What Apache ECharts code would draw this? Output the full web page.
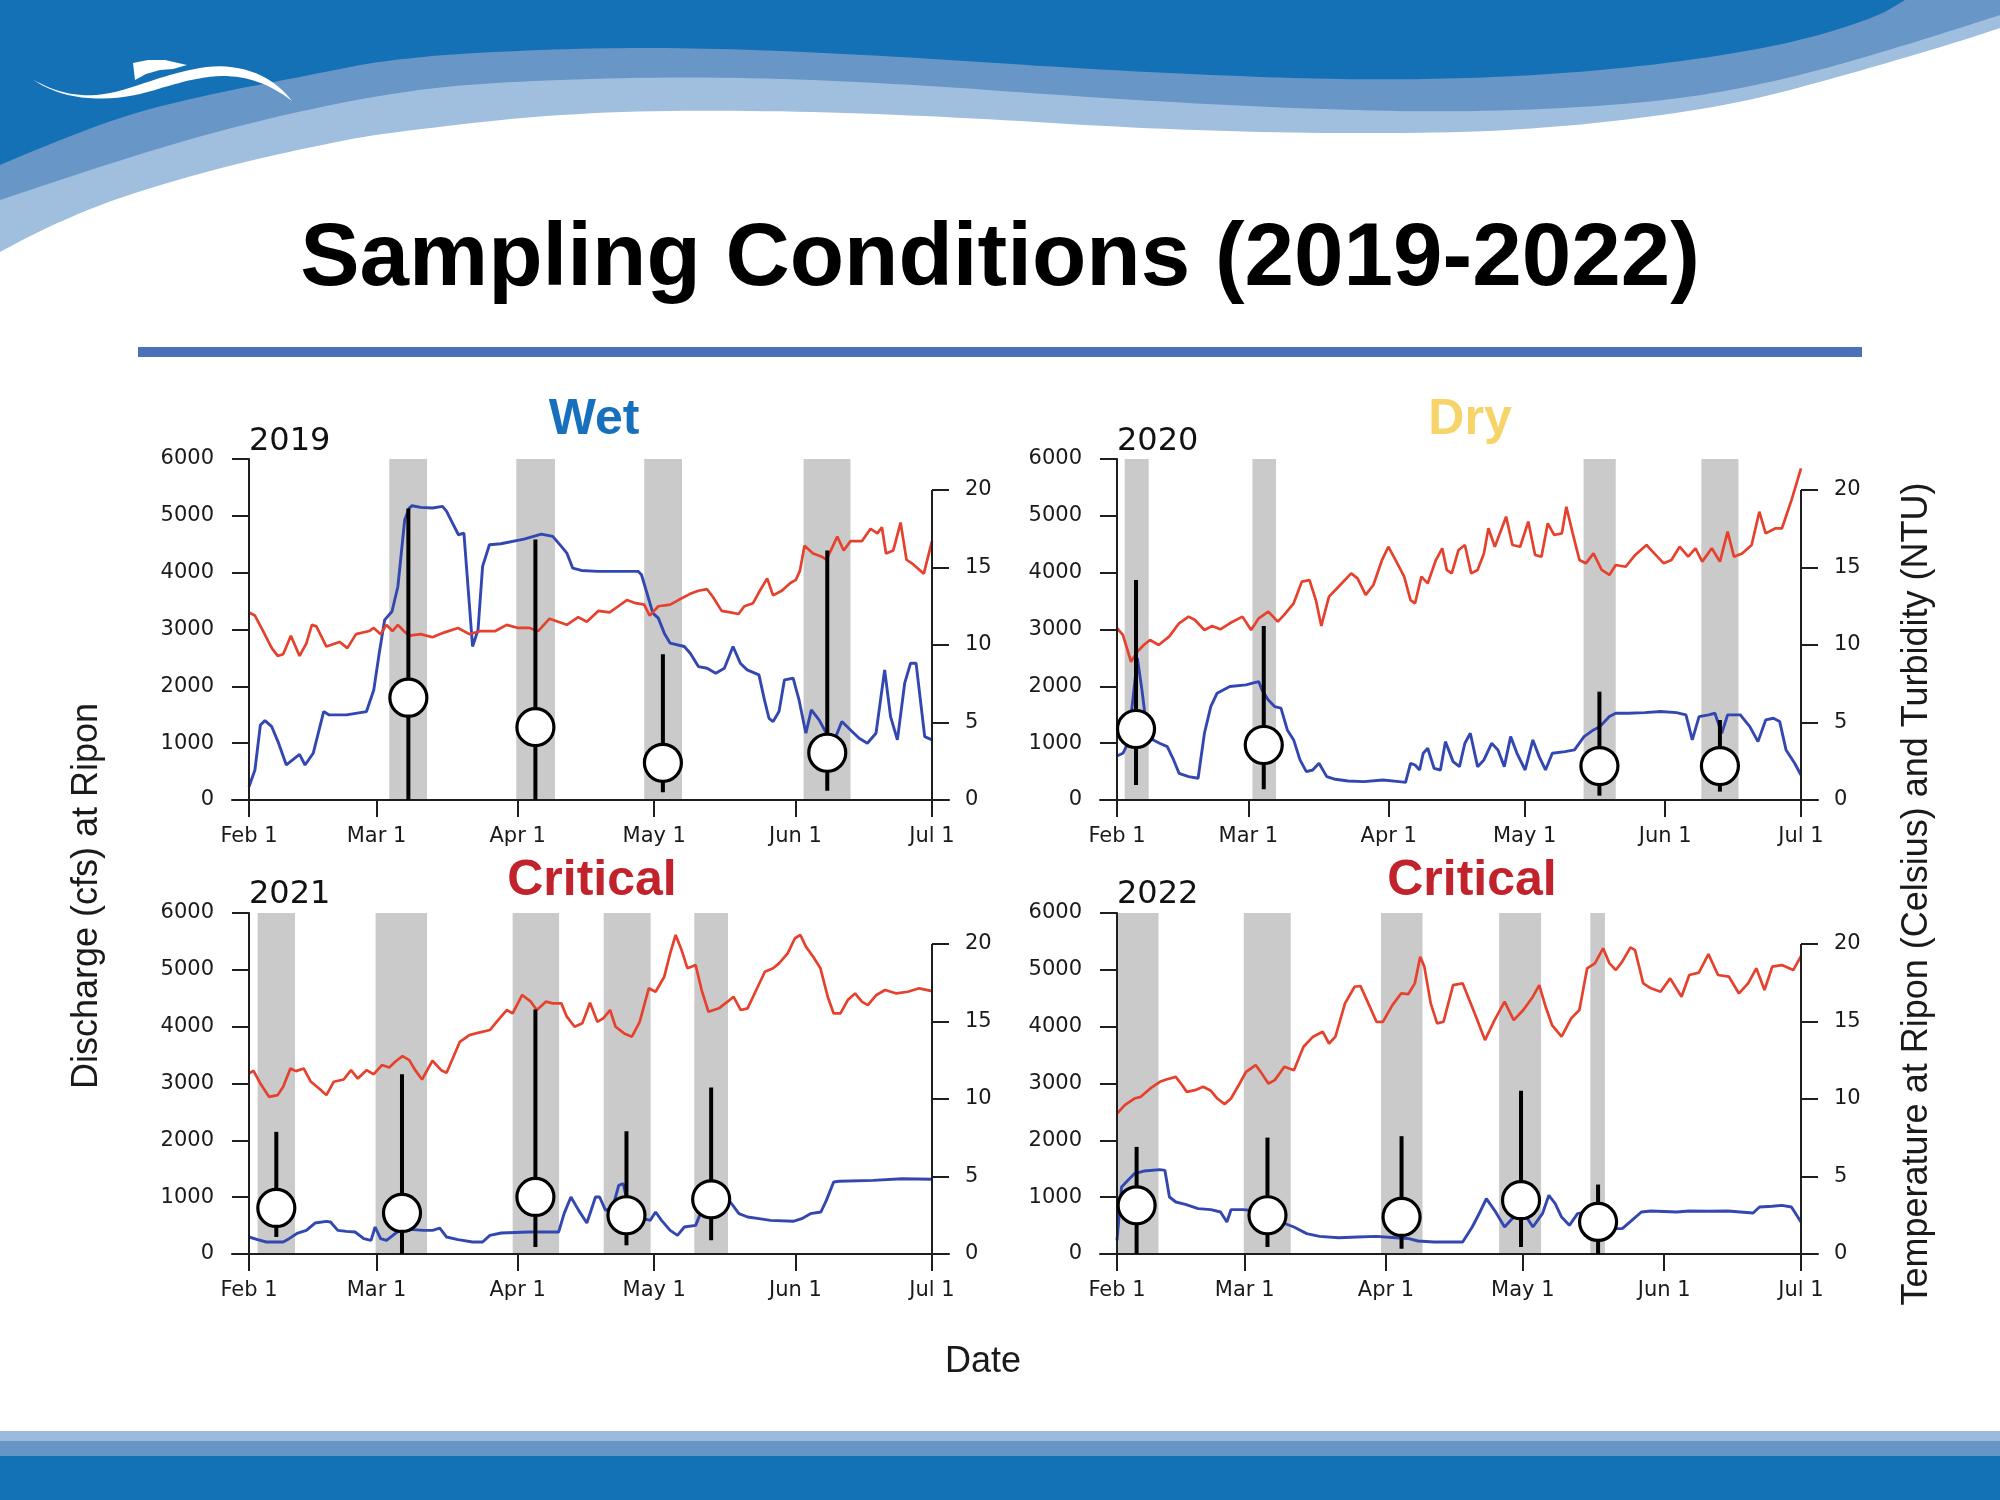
<!DOCTYPE html>
<html><head><meta charset="utf-8">
<script src="https://cdn.jsdelivr.net/npm/echarts@6/dist/echarts.min.js"></script>
<style>html,body{margin:0;padding:0;background:#fff}#c{width:2000px;height:1500px}</style>
</head><body><div id="c"></div><script>
// ---------------- DATA ----------------
const tickLabels = ['Feb 1','Mar 1','Apr 1','May 1','Jun 1','Jul 1'];
const ticks2019 = [0,28,59,89,120,150];
const ticks2020 = [0,29,60,90,121,151];
const ticks2021 = [0,28,59,89,120,150];
const ticks2022 = [0,28,59,89,120,150];
const dischargeTicks = [0,1000,2000,3000,4000,5000,6000];
const tempTicks = [0,5,10,15,20];
const years = ['2019','2020','2021','2022'];
const yearTypes = ['Wet','Dry','Critical','Critical'];

// discharge (cfs) [day since Feb 1, value]
const dis2019 = [[0,235],[1.3,528],[2.5,1320],[3.5,1397],[5,1290],[6.5,1000],[8.2,616],[11.1,804],[12.3,616],[14.1,822],[16.4,1556],[17.6,1497],[21.4,1497],[25.8,1556],[27.4,1937],[28.6,2583],[29.8,3170],[31.4,3317],[32.7,3757],[34.2,4932],[35.2,5137],[35.8,5178],[37.7,5149],[40.3,5137],[42.5,5166],[43.4,5078],[44.7,4873],[46,4667],[47.2,4697],[49.1,2701],[50.3,2994],[51.3,4110],[52.8,4491],[55.3,4509],[60.4,4591],[64.2,4679],[66.7,4638],[68.6,4462],[69.8,4345],[71.1,4080],[73,4039],[76.7,4022],[85.5,4022],[86.2,3963],[88.7,3288],[89.9,3200],[91.2,2936],[92.5,2760],[95.6,2701],[96.9,2583],[98.7,2348],[100.6,2319],[102.5,2231],[104.4,2319],[106.3,2701],[107.9,2407],[109.4,2290],[112,2202],[113.2,1761],[114.2,1438],[115.1,1380],[116.4,1556],[117.6,2114],[119.5,2143],[120.8,1761],[122.3,1174],[123.5,1585],[125.2,1409],[126.8,1174],[128.3,998],[130.2,1380],[132.1,1233],[134,1086],[135.8,998],[137.7,1174],[139.6,2290],[140.9,1468],[142.4,1057],[144,2055],[145.3,2407],[146.5,2407],[148.4,1115],[150,1057]];
const dis2020 = [[0,775],[1.3,822],[2.4,998],[3.5,1761],[4.5,2495],[5.5,1937],[6.6,1233],[8,1057],[9.4,998],[11.1,939],[12.5,705],[13.7,470],[15.8,411],[17.9,382],[19.3,1174],[20.7,1644],[22.1,1879],[24.9,1996],[28.5,2025],[29.9,2055],[31.3,2084],[32,1937],[33.4,1761],[34.8,1644],[36.2,1615],[37.6,1233],[39,1057],[40.4,705],[41.8,499],[43.2,528],[44.6,646],[46.3,411],[48.2,364],[51,335],[54.5,323],[58.7,352],[62.3,323],[63.7,311],[64.8,646],[65.8,616],[66.8,528],[67.6,822],[68.6,910],[70,558],[71.4,528],[72.5,1027],[74.2,675],[75.6,587],[76.8,998],[78,1174],[79.6,587],[81,705],[82.7,998],[84.1,881],[85.5,587],[86.9,1115],[88.3,822],[90.1,528],[91.8,1057],[93.2,763],[94.6,528],[96.1,822],[98.9,851],[101,881],[103.1,1115],[105.2,1233],[106.6,1292],[108.7,1468],[110.1,1526],[112.9,1526],[116.5,1538],[120,1556],[123.5,1538],[125.6,1497],[127,1057],[128.5,1468],[130.6,1497],[132,1526],[133.5,1174],[134.8,1497],[137.6,1497],[139.7,1292],[141.5,1027],[143.2,1409],[144.9,1438],[146.3,1380],[147.7,881],[149.6,646],[151,440]];
const dis2021 = [[0,299],[1.9,252],[3.8,211],[7.5,211],[8.8,270],[10.7,369],[12.6,416],[14.5,545],[17,575],[17.9,563],[19.5,416],[21.4,399],[23.3,387],[25.2,270],[26.8,240],[27.7,475],[28.9,270],[30.2,240],[32.1,358],[34,475],[35.9,428],[38.4,416],[40.3,416],[41.9,457],[43.4,299],[45.9,252],[49.1,211],[51.3,211],[52.9,328],[55.4,369],[61.4,387],[65.2,387],[68,387],[69.2,710],[70.7,1003],[72.4,768],[74.2,545],[76.1,1003],[77,1003],[78.3,768],[79.9,827],[81.2,1208],[82.2,1237],[83,944],[84.9,886],[86.6,622],[88.1,592],[89.3,739],[90.6,592],[92.5,416],[94.1,328],[95.6,475],[98.1,504],[100,886],[101.3,827],[103.2,768],[105.7,915],[107.6,710],[109.5,651],[112,622],[114.5,592],[119.5,575],[121.4,622],[123.3,710],[125.6,739],[126.8,944],[128.4,1267],[129.6,1279],[137.1,1296],[143.4,1325],[150,1314]];
const dis2022 = [[0,240],[1,1179],[2.4,1296],[3.8,1413],[5.9,1460],[9.4,1484],[10.5,1472],[11.5,1003],[12.9,915],[15,874],[17.8,798],[20.6,780],[22.7,739],[24.1,563],[25,780],[27.6,780],[29.7,768],[31.8,651],[35.9,563],[38.8,475],[41.6,358],[44.4,311],[48.6,287],[52.7,299],[56.9,311],[61.1,287],[64,270],[66,229],[69.5,211],[72.3,211],[75.8,211],[77.9,475],[79.6,739],[81,974],[82.8,768],[85,475],[87,651],[89.1,739],[91.2,475],[93.3,710],[94.7,1032],[96.1,886],[97.5,651],[99.2,504],[101,710],[102.8,739],[104.5,651],[106.6,504],[108.7,446],[110.8,446],[112.9,592],[115,739],[117.1,757],[122.7,739],[125.5,757],[129.7,751],[133.9,757],[136.7,739],[139.5,721],[140.9,827],[143.7,839],[145.8,856],[147.9,827],[150,563]];

// temperature (Celsius) [day since Feb 1, value]
const temp2019 = [[0,12.1],[1.3,11.9],[3.1,10.9],[5,9.8],[6.3,9.3],[7.5,9.4],[9.2,10.6],[11.1,9.3],[12.6,10.1],[13.8,11.3],[14.8,11.2],[17,9.9],[19.9,10.2],[21.6,9.8],[23.5,10.7],[26.4,10.9],[27.4,11.1],[28.9,10.7],[30.2,11.3],[31.5,10.9],[32.7,11.3],[34,10.9],[35.2,10.6],[37.7,10.7],[40.3,10.5],[42.8,10.8],[45.9,11.1],[48.4,10.7],[50.9,10.9],[54.1,10.9],[56.6,11.3],[59.1,11.1],[61.6,11.1],[63.5,10.9],[66,11.7],[67.9,11.5],[69.8,11.3],[72.3,11.8],[74.2,11.5],[76.7,12.2],[79.2,12.1],[81.1,12.5],[83,12.9],[84.9,12.7],[86.8,12.6],[88,11.9],[89.9,12.5],[92.5,12.6],[94.3,12.9],[96.9,13.3],[98.7,13.5],[100.6,13.6],[101.9,13.1],[103.8,12.2],[105.7,12.1],[107.5,12.0],[108.8,12.5],[110.7,12.7],[112,13.4],[113.8,14.3],[115.1,13.2],[117,13.5],[118.9,14.0],[120.1,14.2],[121,14.8],[122,16.4],[123.9,15.9],[125.8,15.7],[126.8,15.5],[128.1,16.3],[129.2,17.0],[130.6,16.1],[132.1,16.7],[134.6,16.7],[136.5,17.5],[138,17.2],[139,17.6],[139.9,15.9],[141.5,16.1],[143.1,17.9],[144.4,15.5],[145.9,15.2],[148.2,14.6],[150,16.7]];
const temp2020 = [[0,11.08],[1.3,10.65],[3.1,8.92],[4.5,9.57],[5.9,10.0],[7.3,10.32],[9.2,10.0],[11.5,10.54],[13.7,11.4],[15.8,11.83],[17.2,11.61],[19.3,10.97],[21,11.23],[22.8,11.01],[24.9,11.4],[27.7,11.83],[29.6,10.97],[31.3,11.72],[33.4,12.15],[35.5,11.51],[36.9,11.94],[39,12.69],[40.8,14.09],[42.5,14.19],[43.9,12.9],[45.1,11.23],[46.8,13.12],[48.9,13.76],[51.7,14.62],[53.1,14.3],[54.9,13.23],[56.6,13.87],[58.5,15.48],[59.9,16.34],[61.5,15.48],[63.4,14.41],[64.8,12.9],[65.8,12.69],[67.2,14.41],[68.6,13.98],[70.4,15.48],[71.8,16.24],[72.8,14.84],[73.9,14.62],[75.4,16.13],[76.8,16.45],[78.2,14.62],[79.6,14.84],[81,15.91],[82,17.53],[83.4,16.34],[84.8,17.42],[85.9,18.28],[87.3,16.45],[89,16.34],[90.8,17.96],[92.3,15.81],[93.7,15.7],[95.1,17.85],[96.5,17.1],[98.2,17.2],[99.2,18.92],[100.6,17.2],[102.1,15.48],[103.5,15.27],[105.2,15.91],[107,14.84],[108.7,14.52],[110.1,15.16],[112.3,15.05],[114.4,15.81],[116.9,16.45],[118.6,15.91],[120.7,15.27],[122.4,15.48],[124.2,16.34],[126.1,15.7],[127.7,16.24],[129.2,15.38],[131.3,16.24],[133.1,15.38],[134.8,17.31],[136.2,15.7],[138,15.91],[140.1,16.45],[141.8,18.6],[143.2,17.2],[145.4,17.53],[146.8,17.53],[148.9,19.35],[151,21.4]];
const temp2021 = [[0,11.65],[1,11.82],[2.5,11.0],[4.4,10.14],[6.3,10.25],[7.5,10.79],[9.1,11.97],[10.3,11.8],[12,11.97],[13.6,11.11],[15.4,10.68],[17,10.25],[18.6,11.11],[20.8,11.26],[22.4,11.86],[23.9,11.32],[25.8,11.86],[27.4,11.6],[29.2,12.19],[30.8,12.03],[32.1,12.4],[33.7,12.77],[35.2,12.51],[36.5,11.86],[38,11.26],[40.3,12.47],[42.2,11.86],[43.4,11.69],[46.3,13.69],[48.4,14.12],[50.3,14.27],[52.9,14.45],[54.7,15.09],[56.6,15.74],[57.9,15.52],[60,16.71],[61.9,16.28],[63.2,15.74],[65.2,16.28],[66.7,16.17],[68.6,16.17],[69.8,15.31],[71.5,14.66],[73.2,14.88],[74.9,16.21],[76.5,14.98],[77.8,15.2],[79.3,15.74],[80.5,14.66],[82.4,14.23],[84.1,14.02],[85.8,14.98],[87.8,17.14],[89.3,16.92],[91.2,17.89],[92.5,19.4],[93.7,20.58],[95,19.61],[96.3,18.43],[98.1,18.64],[99.4,17.03],[100.9,15.63],[103.2,15.85],[105.1,16.28],[106.4,16.6],[108,15.74],[109.5,15.85],[111.4,17.03],[113.3,18.21],[115.1,18.43],[116.4,18.75],[118.3,19.4],[119.9,20.37],[121.1,20.58],[122.3,19.83],[123.9,19.18],[125.5,18.43],[127.1,16.6],[128.4,15.52],[129.9,15.52],[131.5,16.38],[133.1,16.81],[134.6,16.28],[135.9,16.06],[137.8,16.71],[139.7,17.03],[142.2,16.81],[144.7,16.92],[147.2,17.14],[150,16.96]];
const temp2022 = [[0,9.06],[1.7,9.6],[3.8,10.03],[5.2,10.14],[7.3,10.68],[9.4,11.11],[10.8,11.26],[12.9,11.43],[14.3,10.89],[15.3,10.46],[17.1,10.57],[18.9,10.79],[20.6,10.53],[22,10.03],[23.6,9.67],[25,10.03],[26.9,11.0],[28.3,11.75],[30.4,12.19],[31.5,11.75],[33.2,11.0],[34.6,11.22],[36.7,12.08],[38.8,11.86],[40.9,13.37],[43,14.02],[45.1,14.34],[46.5,13.58],[47.9,14.02],[50,16.17],[52.1,17.24],[53.4,17.29],[54.8,16.38],[56.9,14.98],[58.3,14.98],[60.4,16.06],[62.3,16.81],[63.9,16.77],[65.3,17.46],[66.5,19.18],[67.4,18.54],[68.8,16.17],[70.2,14.88],[71.6,14.98],[73.7,17.35],[75.8,17.46],[78.6,15.41],[80.7,13.8],[82.8,15.09],[85,16.28],[87,15.09],[89.1,15.74],[91.2,16.6],[92.6,17.35],[94,15.95],[95.4,14.77],[97.5,14.02],[99.6,15.2],[101.4,15.74],[103.1,18.43],[104.8,18.75],[106.6,19.72],[108,18.75],[109.4,18.32],[110.8,18.86],[112.6,19.78],[113.6,19.61],[115.4,17.46],[117.1,17.14],[119.2,16.92],[121.3,17.78],[123.8,16.6],[125.5,18.0],[127.6,18.15],[129.7,19.35],[131.8,18.0],[134.2,17.89],[136.4,16.81],[138.4,17.46],[140.2,18.43],[142,17.03],[143.7,18.54],[145.8,18.64],[148.3,18.32],[150,19.22]];

// sampling periods (grey bands) [start day, end day]
const bands2019 = [[30.8,39.1],[58.7,67.2],[86.8,95.1],[121.8,132.1]];
const bands2020 = [[1.7,7.0],[29.9,35.1],[103.0,110.1],[129.0,137.2]];
const bands2021 = [[1.9,10.1],[27.8,39.1],[57.9,68.1],[77.9,88.2],[97.8,105.2]];
const bands2022 = [[0,9.1],[27.8,38.1],[57.9,67.0],[83.8,93.0],[103.8,107.0]];

// turbidity (NTU) [day, median, min, max]
const turb2019 = [[35,6.6,0,18.8],[62.9,4.7,0,16.8],[90.9,2.4,0.5,9.4],[127,3.05,0.6,16.1]];
const turb2020 = [[4.2,4.58,0.97,14.19],[32.4,3.55,0.69,11.23],[106.5,2.19,0.28,6.99],[133.1,2.19,0.54,5.16]];
const turb2021 = [[6,2.97,1.1,7.88],[33.6,2.65,0,11.6],[62.9,3.68,0.45,15.78],[82.9,2.5,0.56,7.92],[101.5,3.53,0.88,10.74]];
const turb2022 = [[4.3,3.14,0,6.91],[33,2.5,0.45,7.51],[62.4,2.39,0.34,7.6],[88.6,3.47,0.45,10.53],[105.5,2.07,0,4.48]];

// ---------------- STYLE / LAYOUT ----------------
const disList = [dis2019, dis2020, dis2021, dis2022];
const tempList = [temp2019, temp2020, temp2021, temp2022];
const bandList = [bands2019, bands2020, bands2021, bands2022];
const turbList = [turb2019, turb2020, turb2021, turb2022];
const tickList = [ticks2019, ticks2020, ticks2021, ticks2022];
const typeColors = ['#1670bd', '#f6d469', '#c1222b', '#c1222b'];
const boxes = [
  {left:249, top:459, len:683, titleX:594, titleY:420, yearY:442},
  {left:1117, top:459, len:684, titleX:1470, titleY:420, yearY:442},
  {left:249, top:913, len:683, titleX:592, titleY:881, yearY:895},
  {left:1117, top:913, len:684, titleX:1472, titleY:881, yearY:895}
];
const PLOT_H = 341, EXT = 17;
const AX = '#1e1e1e';
const tickFont = {fontFamily:'DejaVu Sans', fontSize:21, color:'#1a1a1a'};

const grids = [], xAxes = [], yAxes = [], series = [];
boxes.forEach((b, i) => {
  const ticks = tickList[i];
  const last = ticks[ticks.length - 1];
  const extDays = EXT * last / b.len;
  grids.push({left:b.left - EXT, top:b.top, width:b.len + 2*EXT, height:PLOT_H,
              containLabel:false, outerBoundsMode:'none'});
  xAxes.push({type:'value', gridIndex:i, min:-extDays, max:last + extDays, z:4,
    splitLine:{show:false},
    axisLine:{show:true, onZero:false, lineStyle:{color:AX, width:2}},
    axisTick:{show:true, customValues:ticks, length:17, lineStyle:{color:AX, width:2}},
    axisLabel:Object.assign({customValues:ticks, margin:26,
      formatter:v => { const k = ticks.findIndex(t => Math.abs(t - v) < 0.01); return k >= 0 ? tickLabels[k] : ''; }}, tickFont)
  });
  yAxes.push({type:'value', gridIndex:i, position:'left', min:0, max:6000, offset:-EXT, z:4,
    splitLine:{show:false},
    axisLine:{show:true, onZero:false, lineStyle:{color:AX, width:2}},
    axisTick:{show:true, customValues:dischargeTicks, length:17, lineStyle:{color:AX, width:2}},
    axisLabel:Object.assign({customValues:dischargeTicks, margin:35, formatter:v => String(Math.round(v))}, tickFont)
  });
  yAxes.push({type:'value', gridIndex:i, position:'right', min:0, max:22, offset:-EXT, z:4,
    splitLine:{show:false},
    axisLine:{show:false, onZero:false},
    axisTick:{show:true, customValues:tempTicks, length:17, lineStyle:{color:AX, width:2}},
    axisLabel:Object.assign({customValues:tempTicks, margin:33, formatter:v => String(Math.round(v))}, tickFont)
  });
  series.push({type:'line', xAxisIndex:i, yAxisIndex:2*i, data:[], z:1, silent:true,
    markArea:{silent:true, itemStyle:{color:'#cacaca'},
      data:bandList[i].map(d => [{xAxis:d[0]}, {xAxis:d[1]}])}});
  series.push({type:'line', xAxisIndex:i, yAxisIndex:2*i, data:disList[i], z:3,
    showSymbol:false, symbol:'none', silent:true,
    lineStyle:{color:'#3347b0', width:2.9}});
  series.push({type:'line', xAxisIndex:i, yAxisIndex:2*i+1, data:tempList[i], z:3,
    showSymbol:false, symbol:'none', silent:true,
    lineStyle:{color:'#e6412d', width:2.7},
    markLine:{silent:true, symbol:['none','none'], label:{show:false},
      lineStyle:{color:AX, width:2, type:'solid'},
      data:[[{coord:[last, tempTicks[0]]}, {coord:[last, tempTicks[tempTicks.length-1]]}]]}});
  series.push({type:'custom', xAxisIndex:i, yAxisIndex:2*i+1, z:5, silent:true,
    data:turbList[i].map(t => [t[0], t[2], t[3]]),
    encode:{x:0, y:[1,2]},
    renderItem:(params, api) => {
      const a = api.coord([api.value(0), api.value(1)]);
      const c = api.coord([api.value(0), api.value(2)]);
      return {type:'line', shape:{x1:a[0], y1:a[1], x2:c[0], y2:c[1]},
              style:{stroke:'#000', lineWidth:4}};
    }});
  series.push({type:'scatter', xAxisIndex:i, yAxisIndex:2*i+1, z:6, silent:true,
    data:turbList[i].map(t => [t[0], t[1]]),
    symbol:'circle', symbolSize:37,
    itemStyle:{color:'#ffffff', borderColor:'#000', borderWidth:3.2, opacity:1}});
});

// ---------------- DECORATION ----------------
function smoothPts(pts) {
  const out = [pts[0].slice()];
  let start = pts[0];
  for (let i = 1; i < pts.length - 1; i++) {
    const c = pts[i];
    const end = [(pts[i][0] + pts[i+1][0]) / 2, (pts[i][1] + pts[i+1][1]) / 2];
    for (let k = 1; k <= 12; k++) {
      const t = k / 12, u = 1 - t;
      out.push([u*u*start[0] + 2*u*t*c[0] + t*t*end[0], u*u*start[1] + 2*u*t*c[1] + t*t*end[1]]);
    }
    start = end;
  }
  out.push(pts[pts.length - 1].slice());
  return out;
}
function cubicPts(p0, segs) {
  const out = [p0];
  let s = p0;
  segs.forEach(g => {
    for (let k = 1; k <= 16; k++) {
      const t = k / 16, u = 1 - t;
      out.push([u*u*u*s[0] + 3*u*u*t*g[0][0] + 3*u*t*t*g[1][0] + t*t*t*g[2][0],
                u*u*u*s[1] + 3*u*u*t*g[0][1] + 3*u*t*t*g[1][1] + t*t*t*g[2][1]]);
    }
    s = g[2];
  });
  return out;
}
const waveLight = [[0,252],[67,215],[200,172],[333,142],[400,131],[574,112],[765,110],[957,117],[1148,129],[1339,134],[1531,131],[1722,108],[1850,74],[1964,40],[2000,28]];
const waveMid = [[0,200],[133,155],[267,118],[400,91],[510,81],[702,76],[893,83],[1084,97],[1276,108],[1467,113],[1658,103],[1786,80],[1913,43],[2000,15]];
const waveDark = [[0,165],[100,122],[200,96],[300,77],[400,57],[570,48],[714,48],[893,56],[1084,69],[1276,78],[1403,80],[1531,76],[1658,65],[1786,45],[1875,18],[1905,0]];
const bandPoly = pts => smoothPts(pts).concat([[2000,0],[0,0]]);
const swoosh = cubicPts([32,79], [
  [[55,92],[80,100],[115,92]], [[140,86],[165,74],[200,68]], [[235,62],[270,72],[292,101]],
  [[270,84],[248,76],[222,76]], [[190,77],[165,88],[140,94]], [[100,103],[60,99],[32,79]]]);
const fin = [[135,80],[133,63],[148,60],[165,60],[187,65],[173,69],[160,70],[146,74]];

const graphics = [
  {type:'polygon', z:0, shape:{points:bandPoly(waveLight)}, style:{fill:'#a0bfde'}},
  {type:'polygon', z:1, shape:{points:bandPoly(waveMid)}, style:{fill:'#6796c7'}},
  {type:'polygon', z:2, shape:{points:bandPoly(waveDark)}, style:{fill:'#1471b6'}},
  {type:'polygon', z:3, shape:{points:swoosh}, style:{fill:'#ffffff'}},
  {type:'polygon', z:3, shape:{points:fin}, style:{fill:'#ffffff'}},
  {type:'rect', z:0, shape:{x:0, y:1431, width:2000, height:10}, style:{fill:'#9cbadb'}},
  {type:'rect', z:0, shape:{x:0, y:1441, width:2000, height:15}, style:{fill:'#6795c5'}},
  {type:'rect', z:0, shape:{x:0, y:1456, width:2000, height:44}, style:{fill:'#1372b5'}},
  {type:'rect', z:0, shape:{x:138, y:347, width:1724, height:10}, style:{fill:'#4a71b8'}},
  {type:'text', z:5, x:1000, y:260, style:{text:'Sampling Conditions (2019-2022)', fill:'#000',
    fontFamily:'Liberation Sans', fontWeight:'bold', fontSize:89, align:'center', verticalAlign:'middle'}},
  {type:'text', z:5, x:87, y:896, rotation:Math.PI/2, style:{text:'Discharge (cfs) at Ripon', fill:'#1a1a1a',
    fontFamily:'Liberation Sans', fontSize:36, align:'center', verticalAlign:'middle'}},
  {type:'text', z:5, x:1917, y:894, rotation:Math.PI/2, style:{text:'Temperature at Ripon (Celsius) and Turbidity (NTU)', fill:'#1a1a1a',
    fontFamily:'Liberation Sans', fontSize:36, align:'center', verticalAlign:'middle'}},
  {type:'text', z:5, x:983, y:1362, style:{text:'Date', fill:'#1a1a1a',
    fontFamily:'Liberation Sans', fontSize:36, align:'center', verticalAlign:'middle'}}
];
boxes.forEach((b, i) => {
  graphics.push({type:'text', z:5, x:b.titleX, y:b.titleY, style:{text:yearTypes[i], fill:typeColors[i],
    fontFamily:'Liberation Sans', fontWeight:'bold', fontSize:50, align:'center', verticalAlign:'middle'}});
  graphics.push({type:'text', z:5, x:b.left, y:b.yearY, style:{text:years[i], fill:'#111',
    fontFamily:'DejaVu Sans', fontSize:32, align:'left', verticalAlign:'middle'}});
});

const chart = echarts.init(document.getElementById('c'), null, {renderer:'canvas'});
chart.setOption({
  animation:false,
  backgroundColor:'#ffffff',
  grid:grids, xAxis:xAxes, yAxis:yAxes, series:series,
  graphic:{elements:graphics}
});
</script></body></html>
